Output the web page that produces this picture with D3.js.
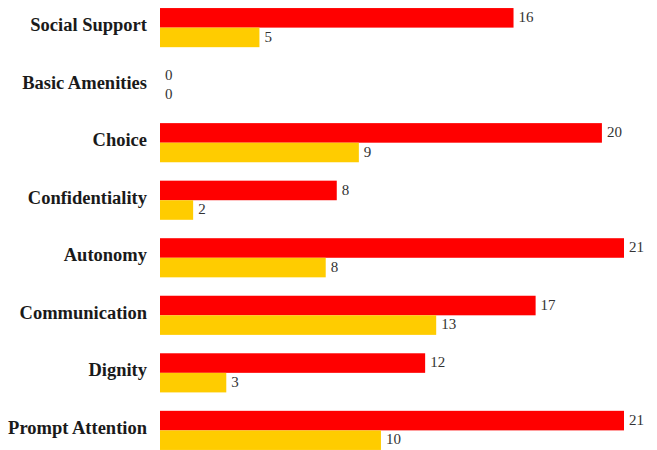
<!DOCTYPE html>
<html>
<head>
<meta charset="utf-8">
<script src="https://cdn.jsdelivr.net/npm/d3@7"></script>
<style>
  body { margin: 0; background: #fff; }
  svg text { font-family: "Liberation Serif", "DejaVu Serif", serif; }
</style>
</head>
<body>
<div id="chart"></div>
<script>
var categories = ["Social Support", "Basic Amenities", "Choice", "Confidentiality",
                  "Autonomy", "Communication", "Dignity", "Prompt Attention"];
var redValues = [16, 0, 20, 8, 21, 17, 12, 21];
var yellowValues = [4.5, 0, 9, 1.5, 7.5, 12.5, 3, 10];
var seriesNames = ["red", "yellow"];
var colors = ["#FF0000", "#FFCC00"];

function drawBarchart(selector) {
    var width = 657, height = 450;
    var left = 160;

    var rows = categories.map(function(c, i) {
        return { cat: c, values: [redValues[i], yellowValues[i]] };
    });

    var svg = d3.select(selector)
        .append("svg")
        .attr("width", width)
        .attr("height", height);

    var y = d3.scaleBand()
        .domain(categories)
        .range([0, 458])
        .paddingInner(0.32)
        .paddingOuter(0.14);

    var ySub = d3.scaleBand()
        .domain(seriesNames)
        .range([0, y.bandwidth()]);

    var x = d3.scaleLinear()
        .domain([0, 21])
        .range([0, 464]);

    var g = svg.append("g")
        .attr("transform", "translate(" + left + ",0)");

    // category labels
    svg.append("g").selectAll("text")
        .data(categories)
        .enter().append("text")
        .attr("x", 147)
        .attr("y", function(d) { return y(d) + y.bandwidth() / 2 - 3; })
        .attr("dy", "0.35em")
        .attr("text-anchor", "end")
        .attr("font-size", 18.5)
        .attr("font-weight", "bold")
        .attr("fill", "#1a1a1a")
        .text(function(d) { return d; });

    var groups = g.selectAll(".grp")
        .data(rows)
        .enter().append("g")
        .attr("class", "grp")
        .attr("transform", function(d) { return "translate(0," + y(d.cat) + ")"; });

    groups.selectAll("rect")
        .data(function(d) { return d.values; })
        .enter().append("rect")
        .attr("x", 0)
        .attr("y", function(d, i) { return ySub(seriesNames[i]); })
        .attr("width", function(d) { return x(d); })
        .attr("height", ySub.bandwidth())
        .attr("fill", function(d, i) { return colors[i]; });

    groups.selectAll("text")
        .data(function(d) { return d.values; })
        .enter().append("text")
        .attr("x", function(d) { return x(d) + 5; })
        .attr("y", function(d, i) { return ySub(seriesNames[i]) + ySub.bandwidth() / 2 - 1; })
        .attr("dy", "0.35em")
        .attr("font-size", 15)
        .attr("fill", "#333")
        .text(function(d) { return Math.round(d); });
}

drawBarchart("#chart");
</script>
</body>
</html>
